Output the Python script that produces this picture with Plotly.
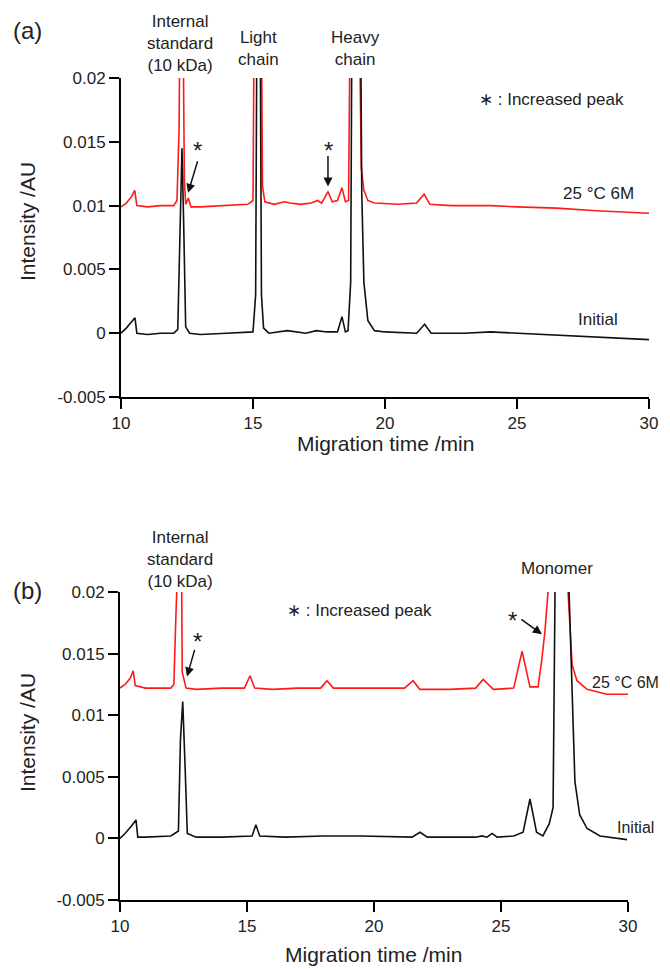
import plotly.graph_objects as go

# (a) reduced CE-SDS traces
a_red_x = [10.0, 10.2, 10.4, 10.52, 10.6, 11.0, 11.5, 12.0, 12.12, 12.2, 12.25, 12.33, 12.4, 12.45, 12.55, 12.65,
           13.0, 14.0, 14.8, 15.0, 15.06, 15.3, 15.36, 15.45, 15.8, 16.2, 16.4, 16.8, 17.2, 17.45, 17.6, 17.84,
           18.0, 18.2, 18.37, 18.5, 18.62, 18.7, 19.0, 19.1, 19.2, 19.35, 19.6, 20.5, 21.2, 21.48, 21.7, 22.5,
           24.0, 25.0, 26.5, 28.0, 30.0]
a_red_y = [0.0099, 0.0102, 0.0107, 0.0112, 0.0100, 0.0099, 0.0100, 0.0100, 0.0104, 0.016, 0.03, 0.03, 0.012, 0.0101,
           0.0106, 0.0099, 0.0099, 0.0100, 0.0101, 0.0104, 0.03, 0.03, 0.0115, 0.0103, 0.0101, 0.0103, 0.0102, 0.0101,
           0.0102, 0.0104, 0.0102, 0.0111, 0.0103, 0.0104, 0.0114, 0.0103, 0.0104, 0.03, 0.03, 0.013, 0.0112, 0.0104,
           0.0102, 0.0101, 0.0102, 0.0109, 0.0101, 0.0100, 0.0100, 0.0099, 0.0098, 0.0096, 0.0094]
a_blk_x = [10.0, 10.2, 10.4, 10.53, 10.6, 11.0, 11.5, 12.0, 12.15, 12.25, 12.31, 12.37, 12.45, 12.6, 13.0, 14.0,
           15.0, 15.1, 15.16, 15.26, 15.32, 15.4, 15.6, 16.3, 17.0, 17.4, 17.8, 18.2, 18.37, 18.5, 18.6, 18.7,
           18.76, 19.06, 19.12, 19.2, 19.35, 19.6, 20.0, 21.2, 21.5, 21.75, 23.0, 24.0, 25.0, 27.0, 28.5, 30.0]
a_blk_y = [0.0, 0.0004, 0.0009, 0.0012, 0.0, -0.0001, 0.0, 0.0, 0.0003, 0.010, 0.0145, 0.009, 0.0005, 0.0, -0.0001,
           0.0, 0.0001, 0.003, 0.03, 0.03, 0.003, 0.0004, 0.0, 0.0002, 0.0, 0.0002, 0.0001, 0.0001, 0.0013, 0.0001,
           0.0002, 0.004, 0.03, 0.03, 0.011, 0.004, 0.001, 0.0002, 0.0001, 0.0, 0.0007, 0.0, 0.0, 0.0001, 0.0,
           -0.0002, -0.0004, -0.0005]

# (b) non-reduced CE-SDS traces
b_red_x = [10.0, 10.2, 10.4, 10.52, 10.6, 11.0, 12.0, 12.12, 12.2, 12.26, 12.4, 12.45, 12.52, 12.6, 13.0, 14.0,
           14.9, 15.12, 15.3, 16.0, 17.0, 17.9, 18.15, 18.4, 19.5, 21.2, 21.54, 21.8, 23.0, 24.0, 24.3, 24.7,
           25.5, 25.83, 26.14, 26.46, 26.6, 26.73, 26.85, 26.95, 27.55, 27.64, 27.8, 27.99, 28.39, 29.17, 30.0]
b_red_y = [0.0122, 0.0125, 0.0130, 0.0136, 0.0124, 0.0122, 0.0122, 0.0125, 0.018, 0.03, 0.03, 0.0135, 0.0129,
           0.0122, 0.0121, 0.0122, 0.0122, 0.0132, 0.0122, 0.0121, 0.0122, 0.0122, 0.0128, 0.0122, 0.0122, 0.0122,
           0.0128, 0.0121, 0.0121, 0.0122, 0.0129, 0.0121, 0.0122, 0.0152, 0.0123, 0.0123, 0.0144, 0.0168, 0.02,
           0.03, 0.03, 0.02, 0.0141, 0.0128, 0.0121, 0.0117, 0.0117]
b_blk_x = [10.0, 10.2, 10.45, 10.63, 10.7, 11.0, 12.0, 12.3, 12.38, 12.47, 12.56, 12.65, 13.0, 14.0, 15.2, 15.35,
           15.5, 16.5, 18.0, 19.5, 21.5, 21.81, 22.1, 24.0, 24.25, 24.45, 24.65, 24.85, 25.5, 25.87, 26.14, 26.4,
           26.65, 26.9, 27.05, 27.17, 27.3, 27.6, 27.68, 27.91, 28.1, 28.39, 28.9, 29.96]
b_blk_y = [0.0, 0.0004, 0.0010, 0.0015, 0.0001, 0.0001, 0.0002, 0.0006, 0.008, 0.0111, 0.006, 0.0004, 0.0001, 0.0001,
           0.0002, 0.0011, 0.0002, 0.0001, 0.0002, 0.0002, 0.0001, 0.0005, 0.0001, 0.0001, 0.0002, 0.0001, 0.0004,
           0.0001, 0.0002, 0.0005, 0.0032, 0.0005, 0.0002, 0.0012, 0.0025, 0.03, 0.03, 0.03, 0.02, 0.0046, 0.0019,
           0.0008, 0.0002, -0.0001]

y_ticks = [-0.005, 0, 0.005, 0.01, 0.015, 0.02]
y_ticktext = ["-0.005", "0", "0.005", "0.01", "0.015", "0.02"]
x_ticks = [10, 15, 20, 25, 30]

# the page body has an 8px margin, so lay out in window pixels minus that offset
OFF = 8
W, H = 670 - OFF, 969 - OFF
FONT = "Liberation Sans, Arial, sans-serif"
TXT = "#222222"


def px(xp, yp):
    return (xp - OFF) / W, 1 - (yp - OFF) / H


def dom_x(a, b):
    return [(a - OFF) / W, (b - OFF) / W]


def dom_y(top, bottom):
    return [1 - (bottom - OFF) / H, 1 - (top - OFF) / H]


fig = go.Figure()
fig.add_trace(go.Scatter(x=a_red_x, y=a_red_y, mode="lines", line=dict(color="#ff1a1a", width=1.6),
                         xaxis="x", yaxis="y", showlegend=False))
fig.add_trace(go.Scatter(x=a_blk_x, y=a_blk_y, mode="lines", line=dict(color="#111111", width=1.6),
                         xaxis="x", yaxis="y", showlegend=False))
fig.add_trace(go.Scatter(x=b_red_x, y=b_red_y, mode="lines", line=dict(color="#ff1a1a", width=1.6),
                         xaxis="x2", yaxis="y2", showlegend=False))
fig.add_trace(go.Scatter(x=b_blk_x, y=b_blk_y, mode="lines", line=dict(color="#111111", width=1.6),
                         xaxis="x2", yaxis="y2", showlegend=False))

xax = dict(range=[10, 30], tickvals=x_ticks, showline=True, linecolor="black", linewidth=2,
           ticks="outside", tickwidth=2, ticklen=10, tickcolor="black", showgrid=False, zeroline=False,
           automargin=False, tickfont=dict(size=17, color=TXT, family=FONT))
yax = dict(range=[-0.005, 0.02], tickvals=y_ticks, ticktext=y_ticktext, showline=True, linecolor="black",
           linewidth=2, ticks="outside", tickwidth=2, ticklen=10, tickcolor="black", showgrid=False,
           zeroline=False, automargin=False, tickfont=dict(size=17, color=TXT, family=FONT))

fig.update_layout(
    template="none",
    width=W, height=H, margin=dict(l=0, r=0, t=0, b=0, pad=0),
    paper_bgcolor="white", plot_bgcolor="white",
    font=dict(family=FONT, color=TXT, size=17),
    xaxis=dict(xax, domain=dom_x(121, 649), anchor="y"),
    yaxis=dict(yax, domain=dom_y(78, 397), anchor="x"),
    xaxis2=dict(xax, domain=dom_x(120, 628), anchor="y2"),
    yaxis2=dict(yax, domain=dom_y(592, 900), anchor="x2"),
)

labels = [
    ("(a)", 27, 30, 24), ("(b)", 27, 590, 24),
    ("Internal<br>standard<br>(10 kDa)", 180, 43, 17),
    ("Light<br>chain", 258, 49, 17),
    ("Heavy<br>chain", 356, 49, 17),
    ("∗ : Increased peak", 551, 100, 17),
    ("25 °C 6M", 598, 193, 17),
    ("Initial", 598, 319, 17),
    ("Migration time /min", 385, 443, 21),
    ("Internal<br>standard<br>(10 kDa)", 180, 559, 17),
    ("Monomer", 557, 568, 17),
    ("∗ : Increased peak", 359, 610, 17),
    ("25 °C 6M", 625, 682, 16),
    ("Initial", 635, 827, 16),
    ("Migration time /min", 374, 954, 21),
]
for text, xp, yp, size in labels:
    x, y = px(xp, yp)
    fig.add_annotation(text=text, x=x, y=y, xref="paper", yref="paper", showarrow=False,
                       xanchor="center", yanchor="middle", font=dict(size=size, color=TXT, family=FONT))

for xp, yp in [(27, 222), (27, 733)]:
    x, y = px(xp, yp)
    fig.add_annotation(text="Intensity /AU", x=x, y=y, xref="paper", yref="paper", showarrow=False,
                       textangle=-90, xanchor="center", yanchor="middle", font=dict(size=21, color=TXT, family=FONT))

# stars
for xp, yp in [(197, 150), (328, 150), (197, 641), (512, 620)]:
    x, y = px(xp, yp)
    fig.add_annotation(text="*", x=x, y=y, xref="paper", yref="paper", showarrow=False,
                       xanchor="center", yanchor="middle", font=dict(size=24, color=TXT, family=FONT))

# arrows: head in data coords, tail offset in pixels
arrows = [("x", "y", 12.54, 0.0110, 10, -33), ("x", "y", 17.84, 0.0115, 0, -32),
          ("x2", "y2", 12.64, 0.01315, 8, -28), ("x2", "y2", 26.61, 0.01657, -22, -16)]
for xr, yr, hx, hy, ax, ay in arrows:
    fig.add_annotation(text="", x=hx, y=hy, xref=xr, yref=yr, ax=ax, ay=ay, showarrow=True,
                       arrowhead=2, arrowsize=1.2, arrowwidth=1.5, arrowcolor="#111111")

fig.write_html("out.html")
